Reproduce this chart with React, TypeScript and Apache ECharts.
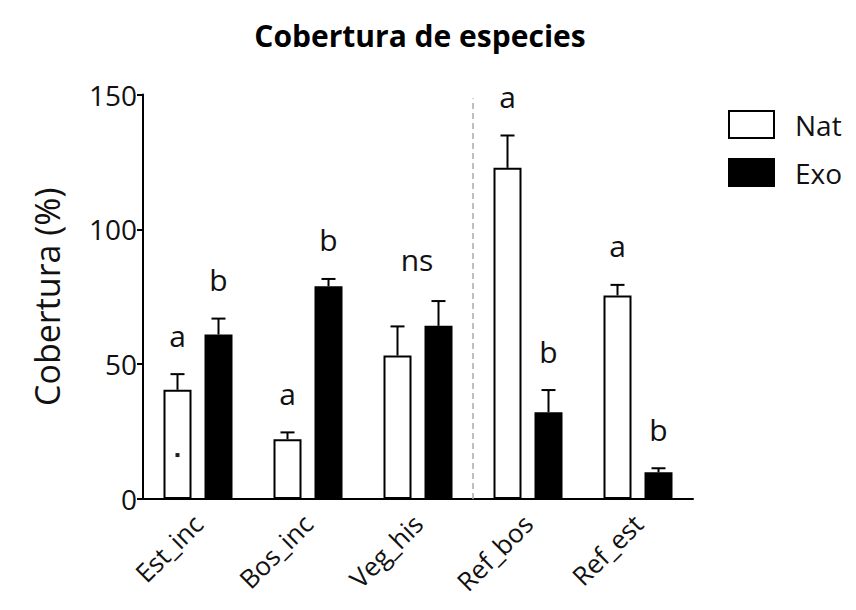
import React, { useEffect, useRef } from "react";
import * as echarts from "echarts";

const categories = ["Est_inc", "Bos_inc", "Veg_his", "Ref_bos", "Ref_est"];
const natMean = [40.5, 22.2, 53.2, 122.8, 75.5];
const natErrTop = [46.3, 24.7, 64.0, 134.8, 79.4];
const exoMean = [61.0, 78.9, 64.2, 32.2, 9.9];
const exoErrTop = [66.9, 81.6, 73.4, 40.4, 11.4];
const natLetters = ["a", "a", "", "a", "a"];
const exoLetters = ["b", "b", "", "b", "b"];
const groupLetters = ["", "", "ns", "", ""];
const natDots = [16.3, null, null, null, null];
const yTicks = [0, 50, 100, 150];
const dividerAt = 3; // boundary index (between Veg_his and Ref_bos)
const dividerTop = 148.6;

const FONT = "'Open Sans', sans-serif";
const BAR_W = 28;
const GAP = 13;
const OFF = (BAR_W + GAP) / 2;

export default function App() {
  const ref = useRef<HTMLDivElement>(null);
  useEffect(() => {
    if (!ref.current) return;
    const chart = echarts.init(ref.current, null, { renderer: "svg" });

    const errSeries = (
      name: string,
      means: number[],
      tops: number[],
      letters: string[],
      sign: number,
      dots: (number | null)[] | null
    ) => ({
      type: "custom",
      name,
      xAxisIndex: 0,
      yAxisIndex: 0,
      z: 5,
      data: categories.map((_, i) => [i, means[i], tops[i], dots ? (dots[i] ?? -1) : -1]),
      renderItem: (params: any, api: any) => {
        const i = api.value(0);
        const base = api.coord([i, api.value(1)]);
        const top = api.coord([i, api.value(2)]);
        const x = base[0] + sign * OFF;
        const children: any[] = [
          { type: "line", shape: { x1: x, y1: base[1], x2: x, y2: top[1] }, style: { stroke: "#000", lineWidth: 2 } },
          { type: "line", shape: { x1: x - 7, y1: top[1], x2: x + 7, y2: top[1] }, style: { stroke: "#000", lineWidth: 2 } },
        ];
        const letter = letters[params.dataIndex];
        if (letter) {
          children.push({
            type: "text",
            style: { text: letter, x, y: top[1] - 39, align: "center", verticalAlign: "middle", font: `30px ${FONT}`, fill: "#111" },
          });
        }
        const dv = api.value(3);
        if (dv >= 0) {
          const d = api.coord([i, dv]);
          children.push({ type: "rect", shape: { x: x - 2, y: d[1] - 2, width: 4, height: 4 }, style: { fill: "#222" } });
        }
        const g = groupLetters[params.dataIndex];
        if (g && sign > 0) {
          const mt = Math.min(api.coord([i, natErrTop[i]])[1], api.coord([i, exoErrTop[i]])[1]);
          children.push({
            type: "text",
            style: { text: g, x: base[0] - 1, y: mt - 42, align: "center", verticalAlign: "middle", font: `30px ${FONT}`, fill: "#111" },
          });
        }
        return { type: "group", children };
      },
    });

    chart.setOption({
      animation: false,
      backgroundColor: "#fff",
      title: {
        text: "Cobertura de especies",
        left: 415,
        top: 15,
        textAlign: "center",
        textStyle: { fontFamily: FONT, fontWeight: "bold", fontSize: 30, color: "#000" },
      },
      legend: {
        orient: "vertical",
        left: 728,
        top: 110,
        padding: 0,
        itemWidth: 45,
        itemHeight: 27,
        itemGap: 19,
        icon: "rect",
        data: ["Nat", "Exo"],
        textStyle: { fontFamily: FONT, fontSize: 28, color: "#111", padding: [0, 0, 0, 16] },
      },
      grid: { left: 143, right: 163, top: 94.5, bottom: 111, containLabel: false },
      xAxis: [
        {
          type: "category",
          data: categories,
          axisLine: { lineStyle: { color: "#000", width: 2 } },
          axisTick: { alignWithLabel: true, length: 7, lineStyle: { color: "#000", width: 2 } },
          axisLabel: { rotate: 45, fontFamily: FONT, fontSize: 26, color: "#111", margin: 20 },
        },
        { type: "value", min: 0, max: 5, show: false },
      ],
      yAxis: {
        type: "value",
        min: 0,
        max: 150,
        interval: 50,
        name: "Cobertura (%)",
        nameLocation: "middle",
        nameRotate: 90,
        nameGap: 79,
        nameTextStyle: { fontFamily: FONT, fontSize: 34, color: "#111" },
        axisLine: { show: true, lineStyle: { color: "#000", width: 2 } },
        axisTick: { show: true, length: 6, lineStyle: { color: "#000", width: 2 } },
        axisLabel: { fontFamily: FONT, fontSize: 28, color: "#111", margin: 6, formatter: (v: number) => (yTicks.includes(v) ? String(v) : "") },
        splitLine: { show: false },
      },
      series: [
        {
          name: "Nat",
          type: "bar",
          data: natMean,
          barWidth: BAR_W,
          barGap: `${(GAP / BAR_W) * 100}%`,
          itemStyle: { color: "#fff", borderColor: "#000", borderWidth: 2 },
        },
        {
          name: "Exo",
          type: "bar",
          data: exoMean,
          barWidth: BAR_W,
          barGap: `${(GAP / BAR_W) * 100}%`,
          itemStyle: { color: "#000", borderColor: "#000", borderWidth: 2 },
        },
        errSeries("natErr", natMean, natErrTop, natLetters, -1, natDots),
        errSeries("exoErr", exoMean, exoErrTop, exoLetters, 1, null),
        {
          type: "line",
          name: "divider",
          xAxisIndex: 1,
          yAxisIndex: 0,
          symbol: "none",
          data: [
            [dividerAt, 0],
            [dividerAt, dividerTop],
          ],
          lineStyle: { color: "#aaa", width: 1.5, type: [6, 4] },
          z: 1,
        },
      ],
    });
    return () => chart.dispose();
  }, []);
  return <div ref={ref} style={{ position: "absolute", left: 0, top: 0, width: 856, height: 610 }} />;
}
